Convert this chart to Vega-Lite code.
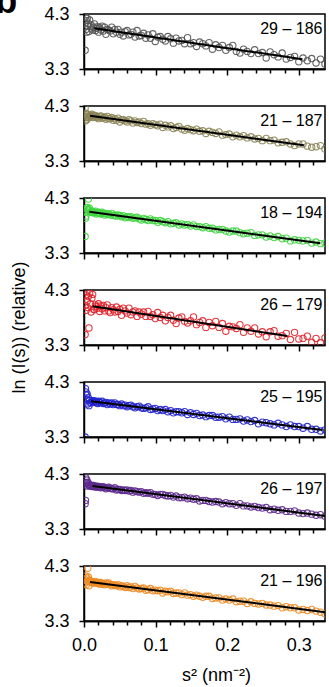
{
"$schema": "https://vega.github.io/schema/vega-lite/v6.json",
"padding": {"left": -6, "top": -17, "right": 0, "bottom": 0},
"config": {"font": "Liberation Sans", "view": {"stroke": "black", "strokeWidth": 1.5}, "axis": {"domainColor": "black", "domainWidth": 1.5, "tickColor": "black", "tickWidth": 1.5, "labelColor": "black", "titleColor": "black", "grid": false, "labelFontSize": 18, "titleFontSize": 18, "titleFontWeight": "normal", "labelFlush": false}},
"spacing": 37,
"bounds": "flush",
"datasets": {
"p1": [{"x":0.0016,"y":3.64},{"x":0.0021,"y":4.25},{"x":0.0026,"y":4.02},{"x":0.0032,"y":4.18},{"x":0.0038,"y":3.97},{"x":0.0045,"y":4.22},{"x":0.0052,"y":4.08},{"x":0.0061,"y":4.13},{"x":0.0069,"y":3.98},{"x":0.0079,"y":4.19},{"x":0.0088,"y":4.07},{"x":0.0099,"y":4.10},{"x":0.011,"y":4.03},{"x":0.0121,"y":4.01},{"x":0.0134,"y":4.06},{"x":0.0146,"y":4.12},{"x":0.016,"y":4.00},{"x":0.0174,"y":4.04},{"x":0.0188,"y":4.07},{"x":0.0203,"y":3.97},{"x":0.0219,"y":4.05},{"x":0.0235,"y":4.01},{"x":0.0252,"y":4.08},{"x":0.027,"y":3.99},{"x":0.0288,"y":4.06},{"x":0.0306,"y":3.93},{"x":0.0325,"y":4.02},{"x":0.0345,"y":4.01},{"x":0.0366,"y":3.99},{"x":0.0387,"y":4.06},{"x":0.0408,"y":3.94},{"x":0.043,"y":4.02},{"x":0.0453,"y":3.97},{"x":0.0476,"y":4.02},{"x":0.05,"y":3.93},{"x":0.0524,"y":3.97},{"x":0.0549,"y":3.90},{"x":0.0575,"y":3.98},{"x":0.0601,"y":4.00},{"x":0.0628,"y":3.92},{"x":0.0655,"y":3.93},{"x":0.0683,"y":3.97},{"x":0.0712,"y":3.88},{"x":0.0741,"y":4.00},{"x":0.0771,"y":3.90},{"x":0.0801,"y":3.91},{"x":0.0832,"y":3.95},{"x":0.0863,"y":3.86},{"x":0.0895,"y":3.92},{"x":0.0928,"y":3.86},{"x":0.0961,"y":3.94},{"x":0.0995,"y":3.80},{"x":0.1029,"y":3.88},{"x":0.1064,"y":3.89},{"x":0.11,"y":3.84},{"x":0.1136,"y":3.81},{"x":0.1172,"y":3.89},{"x":0.121,"y":3.85},{"x":0.1248,"y":3.77},{"x":0.1286,"y":3.86},{"x":0.1325,"y":3.81},{"x":0.1365,"y":3.82},{"x":0.1405,"y":3.76},{"x":0.1446,"y":3.87},{"x":0.1487,"y":3.76},{"x":0.1529,"y":3.78},{"x":0.1571,"y":3.71},{"x":0.1614,"y":3.79},{"x":0.1658,"y":3.76},{"x":0.1702,"y":3.72},{"x":0.1747,"y":3.78},{"x":0.1793,"y":3.66},{"x":0.1839,"y":3.74},{"x":0.1885,"y":3.69},{"x":0.1933,"y":3.73},{"x":0.198,"y":3.64},{"x":0.2029,"y":3.69},{"x":0.2078,"y":3.73},{"x":0.2127,"y":3.62},{"x":0.2177,"y":3.59},{"x":0.2228,"y":3.66},{"x":0.2279,"y":3.62},{"x":0.2331,"y":3.58},{"x":0.2383,"y":3.65},{"x":0.2436,"y":3.58},{"x":0.249,"y":3.60},{"x":0.2544,"y":3.50},{"x":0.2599,"y":3.61},{"x":0.2654,"y":3.56},{"x":0.271,"y":3.52},{"x":0.2767,"y":3.59},{"x":0.2824,"y":3.48},{"x":0.2882,"y":3.51},{"x":0.294,"y":3.53},{"x":0.2999,"y":3.43},{"x":0.3058,"y":3.50},{"x":0.3118,"y":3.45},{"x":0.3179,"y":3.49},{"x":0.324,"y":3.41},{"x":0.3302,"y":3.48},{"x":0.3364,"y":3.39}],
"p2": [{"x":0.0016,"y":4.26},{"x":0.0021,"y":4.03},{"x":0.0026,"y":4.17},{"x":0.0032,"y":4.10},{"x":0.0038,"y":4.05},{"x":0.0045,"y":4.15},{"x":0.0052,"y":4.12},{"x":0.0061,"y":4.08},{"x":0.0069,"y":4.09},{"x":0.0079,"y":4.13},{"x":0.0088,"y":4.12},{"x":0.0099,"y":4.12},{"x":0.011,"y":4.15},{"x":0.0121,"y":4.09},{"x":0.0134,"y":4.13},{"x":0.0146,"y":4.10},{"x":0.016,"y":4.13},{"x":0.0174,"y":4.09},{"x":0.0188,"y":4.10},{"x":0.0203,"y":4.07},{"x":0.0219,"y":4.11},{"x":0.0235,"y":4.12},{"x":0.0252,"y":4.08},{"x":0.027,"y":4.08},{"x":0.0288,"y":4.10},{"x":0.0306,"y":4.06},{"x":0.0325,"y":4.11},{"x":0.0345,"y":4.07},{"x":0.0366,"y":4.07},{"x":0.0387,"y":4.09},{"x":0.0408,"y":4.04},{"x":0.043,"y":4.07},{"x":0.0453,"y":4.04},{"x":0.0476,"y":4.08},{"x":0.05,"y":4.01},{"x":0.0524,"y":4.05},{"x":0.0549,"y":4.05},{"x":0.0575,"y":4.03},{"x":0.0601,"y":4.01},{"x":0.0628,"y":4.05},{"x":0.0655,"y":4.03},{"x":0.0683,"y":3.99},{"x":0.0712,"y":4.03},{"x":0.0741,"y":4.00},{"x":0.0771,"y":4.01},{"x":0.0801,"y":3.98},{"x":0.0832,"y":4.02},{"x":0.0863,"y":3.97},{"x":0.0895,"y":3.98},{"x":0.0928,"y":3.95},{"x":0.0961,"y":3.98},{"x":0.0995,"y":3.96},{"x":0.1029,"y":3.94},{"x":0.1064,"y":3.97},{"x":0.11,"y":3.91},{"x":0.1136,"y":3.95},{"x":0.1172,"y":3.92},{"x":0.121,"y":3.94},{"x":0.1248,"y":3.89},{"x":0.1286,"y":3.91},{"x":0.1325,"y":3.93},{"x":0.1365,"y":3.88},{"x":0.1405,"y":3.86},{"x":0.1446,"y":3.89},{"x":0.1487,"y":3.87},{"x":0.1529,"y":3.85},{"x":0.1571,"y":3.88},{"x":0.1614,"y":3.84},{"x":0.1658,"y":3.85},{"x":0.1702,"y":3.80},{"x":0.1747,"y":3.84},{"x":0.1793,"y":3.82},{"x":0.1839,"y":3.80},{"x":0.1885,"y":3.83},{"x":0.1933,"y":3.77},{"x":0.198,"y":3.78},{"x":0.2029,"y":3.79},{"x":0.2078,"y":3.74},{"x":0.2127,"y":3.77},{"x":0.2177,"y":3.74},{"x":0.2228,"y":3.76},{"x":0.2279,"y":3.72},{"x":0.2331,"y":3.74},{"x":0.2383,"y":3.70},{"x":0.2436,"y":3.71},{"x":0.249,"y":3.67},{"x":0.2544,"y":3.71},{"x":0.2599,"y":3.67},{"x":0.2654,"y":3.68},{"x":0.271,"y":3.63},{"x":0.2767,"y":3.64},{"x":0.2824,"y":3.65},{"x":0.2882,"y":3.61},{"x":0.294,"y":3.58},{"x":0.2999,"y":3.61},{"x":0.3058,"y":3.61},{"x":0.3118,"y":3.57},{"x":0.3179,"y":3.55},{"x":0.324,"y":3.56},{"x":0.3302,"y":3.58},{"x":0.3364,"y":3.52}],
"p3": [{"x":0.0016,"y":3.60},{"x":0.0021,"y":3.93},{"x":0.0026,"y":3.97},{"x":0.0032,"y":4.05},{"x":0.0038,"y":4.12},{"x":0.0045,"y":4.09},{"x":0.0052,"y":4.13},{"x":0.0061,"y":4.28},{"x":0.0069,"y":4.08},{"x":0.0079,"y":4.11},{"x":0.0088,"y":4.04},{"x":0.0099,"y":4.05},{"x":0.011,"y":4.06},{"x":0.0121,"y":4.03},{"x":0.0134,"y":4.05},{"x":0.0146,"y":4.03},{"x":0.016,"y":4.06},{"x":0.0174,"y":4.01},{"x":0.0188,"y":4.03},{"x":0.0203,"y":4.04},{"x":0.0219,"y":4.02},{"x":0.0235,"y":4.01},{"x":0.0252,"y":4.04},{"x":0.027,"y":4.02},{"x":0.0288,"y":3.99},{"x":0.0306,"y":4.02},{"x":0.0325,"y":4.00},{"x":0.0345,"y":4.01},{"x":0.0366,"y":3.99},{"x":0.0387,"y":4.02},{"x":0.0408,"y":3.98},{"x":0.043,"y":3.99},{"x":0.0453,"y":3.97},{"x":0.0476,"y":3.99},{"x":0.05,"y":3.98},{"x":0.0524,"y":3.96},{"x":0.0549,"y":3.98},{"x":0.0575,"y":3.94},{"x":0.0601,"y":3.96},{"x":0.0628,"y":3.95},{"x":0.0655,"y":3.96},{"x":0.0683,"y":3.93},{"x":0.0712,"y":3.94},{"x":0.0741,"y":3.95},{"x":0.0771,"y":3.92},{"x":0.0801,"y":3.90},{"x":0.0832,"y":3.93},{"x":0.0863,"y":3.91},{"x":0.0895,"y":3.89},{"x":0.0928,"y":3.92},{"x":0.0961,"y":3.89},{"x":0.0995,"y":3.89},{"x":0.1029,"y":3.86},{"x":0.1064,"y":3.89},{"x":0.11,"y":3.87},{"x":0.1136,"y":3.85},{"x":0.1172,"y":3.87},{"x":0.121,"y":3.83},{"x":0.1248,"y":3.84},{"x":0.1286,"y":3.85},{"x":0.1325,"y":3.81},{"x":0.1365,"y":3.83},{"x":0.1405,"y":3.81},{"x":0.1446,"y":3.82},{"x":0.1487,"y":3.79},{"x":0.1529,"y":3.81},{"x":0.1571,"y":3.78},{"x":0.1614,"y":3.78},{"x":0.1658,"y":3.76},{"x":0.1702,"y":3.78},{"x":0.1747,"y":3.75},{"x":0.1793,"y":3.75},{"x":0.1839,"y":3.72},{"x":0.1885,"y":3.73},{"x":0.1933,"y":3.73},{"x":0.198,"y":3.70},{"x":0.2029,"y":3.68},{"x":0.2078,"y":3.70},{"x":0.2127,"y":3.70},{"x":0.2177,"y":3.67},{"x":0.2228,"y":3.65},{"x":0.2279,"y":3.66},{"x":0.2331,"y":3.67},{"x":0.2383,"y":3.62},{"x":0.2436,"y":3.63},{"x":0.249,"y":3.63},{"x":0.2544,"y":3.59},{"x":0.2599,"y":3.61},{"x":0.2654,"y":3.58},{"x":0.271,"y":3.60},{"x":0.2767,"y":3.56},{"x":0.2824,"y":3.57},{"x":0.2882,"y":3.52},{"x":0.294,"y":3.54},{"x":0.2999,"y":3.53},{"x":0.3058,"y":3.52},{"x":0.3118,"y":3.53},{"x":0.3179,"y":3.48},{"x":0.324,"y":3.50},{"x":0.3302,"y":3.47},{"x":0.3364,"y":3.48}],
"p4": [{"x":0.0016,"y":3.49},{"x":0.0021,"y":4.02},{"x":0.0026,"y":4.21},{"x":0.0032,"y":3.93},{"x":0.0038,"y":4.27},{"x":0.0045,"y":4.10},{"x":0.0052,"y":3.98},{"x":0.0061,"y":4.18},{"x":0.0069,"y":3.61},{"x":0.0079,"y":4.24},{"x":0.0088,"y":4.05},{"x":0.0099,"y":3.90},{"x":0.011,"y":4.15},{"x":0.0121,"y":4.22},{"x":0.0134,"y":3.95},{"x":0.0146,"y":3.94},{"x":0.016,"y":4.03},{"x":0.0174,"y":4.00},{"x":0.0188,"y":3.97},{"x":0.0203,"y":4.05},{"x":0.0219,"y":3.91},{"x":0.0235,"y":4.01},{"x":0.0252,"y":3.96},{"x":0.027,"y":4.02},{"x":0.0288,"y":3.92},{"x":0.0306,"y":3.98},{"x":0.0325,"y":4.03},{"x":0.0345,"y":3.92},{"x":0.0366,"y":3.89},{"x":0.0387,"y":3.98},{"x":0.0408,"y":3.94},{"x":0.043,"y":3.90},{"x":0.0453,"y":3.99},{"x":0.0476,"y":3.91},{"x":0.05,"y":3.95},{"x":0.0524,"y":3.84},{"x":0.0549,"y":3.97},{"x":0.0575,"y":3.92},{"x":0.0601,"y":3.88},{"x":0.0628,"y":3.97},{"x":0.0655,"y":3.85},{"x":0.0683,"y":3.90},{"x":0.0712,"y":3.92},{"x":0.0741,"y":3.82},{"x":0.0771,"y":3.90},{"x":0.0801,"y":3.86},{"x":0.0832,"y":3.90},{"x":0.0863,"y":3.82},{"x":0.0895,"y":3.91},{"x":0.0928,"y":3.82},{"x":0.0961,"y":3.85},{"x":0.0995,"y":3.78},{"x":0.1029,"y":3.89},{"x":0.1064,"y":3.80},{"x":0.11,"y":3.84},{"x":0.1136,"y":3.74},{"x":0.1172,"y":3.80},{"x":0.121,"y":3.84},{"x":0.1248,"y":3.75},{"x":0.1286,"y":3.69},{"x":0.1325,"y":3.79},{"x":0.1365,"y":3.81},{"x":0.1405,"y":3.73},{"x":0.1446,"y":3.70},{"x":0.1487,"y":3.74},{"x":0.1529,"y":3.81},{"x":0.1571,"y":3.67},{"x":0.1614,"y":3.71},{"x":0.1658,"y":3.74},{"x":0.1702,"y":3.62},{"x":0.1747,"y":3.71},{"x":0.1793,"y":3.65},{"x":0.1839,"y":3.73},{"x":0.1885,"y":3.62},{"x":0.1933,"y":3.69},{"x":0.198,"y":3.55},{"x":0.2029,"y":3.64},{"x":0.2078,"y":3.63},{"x":0.2127,"y":3.60},{"x":0.2177,"y":3.67},{"x":0.2228,"y":3.53},{"x":0.2279,"y":3.61},{"x":0.2331,"y":3.55},{"x":0.2383,"y":3.61},{"x":0.2436,"y":3.50},{"x":0.249,"y":3.54},{"x":0.2544,"y":3.45},{"x":0.2599,"y":3.54},{"x":0.2654,"y":3.56},{"x":0.271,"y":3.46},{"x":0.2767,"y":3.47},{"x":0.2824,"y":3.51},{"x":0.2882,"y":3.40},{"x":0.294,"y":3.53},{"x":0.2999,"y":3.41},{"x":0.3058,"y":3.42},{"x":0.3118,"y":3.46},{"x":0.3179,"y":3.35},{"x":0.324,"y":3.42},{"x":0.3302,"y":3.34},{"x":0.3364,"y":3.43}],
"p5": [{"x":0.0016,"y":3.30},{"x":0.0021,"y":4.18},{"x":0.0026,"y":4.12},{"x":0.0032,"y":4.06},{"x":0.0038,"y":3.98},{"x":0.0045,"y":4.08},{"x":0.0052,"y":3.90},{"x":0.0061,"y":4.01},{"x":0.0069,"y":3.87},{"x":0.0079,"y":3.97},{"x":0.0088,"y":3.92},{"x":0.0099,"y":3.93},{"x":0.011,"y":3.96},{"x":0.0121,"y":3.95},{"x":0.0134,"y":3.93},{"x":0.0146,"y":3.96},{"x":0.016,"y":3.93},{"x":0.0174,"y":3.94},{"x":0.0188,"y":3.91},{"x":0.0203,"y":3.95},{"x":0.0219,"y":3.93},{"x":0.0235,"y":3.92},{"x":0.0252,"y":3.95},{"x":0.027,"y":3.91},{"x":0.0288,"y":3.92},{"x":0.0306,"y":3.93},{"x":0.0325,"y":3.89},{"x":0.0345,"y":3.92},{"x":0.0366,"y":3.90},{"x":0.0387,"y":3.92},{"x":0.0408,"y":3.89},{"x":0.043,"y":3.92},{"x":0.0453,"y":3.89},{"x":0.0476,"y":3.89},{"x":0.05,"y":3.87},{"x":0.0524,"y":3.90},{"x":0.0549,"y":3.87},{"x":0.0575,"y":3.88},{"x":0.0601,"y":3.85},{"x":0.0628,"y":3.87},{"x":0.0655,"y":3.88},{"x":0.0683,"y":3.85},{"x":0.0712,"y":3.83},{"x":0.0741,"y":3.85},{"x":0.0771,"y":3.86},{"x":0.0801,"y":3.83},{"x":0.0832,"y":3.82},{"x":0.0863,"y":3.83},{"x":0.0895,"y":3.85},{"x":0.0928,"y":3.80},{"x":0.0961,"y":3.81},{"x":0.0995,"y":3.82},{"x":0.1029,"y":3.78},{"x":0.1064,"y":3.80},{"x":0.11,"y":3.78},{"x":0.1136,"y":3.80},{"x":0.1172,"y":3.76},{"x":0.121,"y":3.78},{"x":0.1248,"y":3.74},{"x":0.1286,"y":3.76},{"x":0.1325,"y":3.76},{"x":0.1365,"y":3.74},{"x":0.1405,"y":3.76},{"x":0.1446,"y":3.71},{"x":0.1487,"y":3.74},{"x":0.1529,"y":3.71},{"x":0.1571,"y":3.73},{"x":0.1614,"y":3.69},{"x":0.1658,"y":3.70},{"x":0.1702,"y":3.67},{"x":0.1747,"y":3.69},{"x":0.1793,"y":3.69},{"x":0.1839,"y":3.66},{"x":0.1885,"y":3.66},{"x":0.1933,"y":3.67},{"x":0.198,"y":3.63},{"x":0.2029,"y":3.66},{"x":0.2078,"y":3.62},{"x":0.2127,"y":3.62},{"x":0.2177,"y":3.63},{"x":0.2228,"y":3.59},{"x":0.2279,"y":3.61},{"x":0.2331,"y":3.58},{"x":0.2383,"y":3.60},{"x":0.2436,"y":3.54},{"x":0.249,"y":3.57},{"x":0.2544,"y":3.56},{"x":0.2599,"y":3.54},{"x":0.2654,"y":3.52},{"x":0.271,"y":3.55},{"x":0.2767,"y":3.52},{"x":0.2824,"y":3.49},{"x":0.2882,"y":3.52},{"x":0.294,"y":3.49},{"x":0.2999,"y":3.49},{"x":0.3058,"y":3.46},{"x":0.3118,"y":3.49},{"x":0.3179,"y":3.44},{"x":0.324,"y":3.44},{"x":0.3302,"y":3.41},{"x":0.3364,"y":3.43}],
"p6": [{"x":0.0016,"y":3.76},{"x":0.0021,"y":3.82},{"x":0.0026,"y":4.23},{"x":0.0032,"y":4.14},{"x":0.0038,"y":4.19},{"x":0.0045,"y":4.08},{"x":0.0052,"y":4.15},{"x":0.0061,"y":4.10},{"x":0.0069,"y":4.12},{"x":0.0079,"y":4.08},{"x":0.0088,"y":4.09},{"x":0.0099,"y":4.08},{"x":0.011,"y":4.09},{"x":0.0121,"y":4.07},{"x":0.0134,"y":4.09},{"x":0.0146,"y":4.07},{"x":0.016,"y":4.08},{"x":0.0174,"y":4.06},{"x":0.0188,"y":4.08},{"x":0.0203,"y":4.07},{"x":0.0219,"y":4.07},{"x":0.0235,"y":4.05},{"x":0.0252,"y":4.06},{"x":0.027,"y":4.07},{"x":0.0288,"y":4.05},{"x":0.0306,"y":4.03},{"x":0.0325,"y":4.05},{"x":0.0345,"y":4.06},{"x":0.0366,"y":4.04},{"x":0.0387,"y":4.03},{"x":0.0408,"y":4.03},{"x":0.043,"y":4.05},{"x":0.0453,"y":4.01},{"x":0.0476,"y":4.02},{"x":0.05,"y":4.02},{"x":0.0524,"y":4.00},{"x":0.0549,"y":4.01},{"x":0.0575,"y":4.00},{"x":0.0601,"y":4.01},{"x":0.0628,"y":3.99},{"x":0.0655,"y":4.00},{"x":0.0683,"y":3.97},{"x":0.0712,"y":3.99},{"x":0.0741,"y":3.98},{"x":0.0771,"y":3.97},{"x":0.0801,"y":3.98},{"x":0.0832,"y":3.95},{"x":0.0863,"y":3.96},{"x":0.0895,"y":3.95},{"x":0.0928,"y":3.96},{"x":0.0961,"y":3.93},{"x":0.0995,"y":3.93},{"x":0.1029,"y":3.91},{"x":0.1064,"y":3.93},{"x":0.11,"y":3.93},{"x":0.1136,"y":3.91},{"x":0.1172,"y":3.90},{"x":0.121,"y":3.91},{"x":0.1248,"y":3.88},{"x":0.1286,"y":3.90},{"x":0.1325,"y":3.87},{"x":0.1365,"y":3.87},{"x":0.1405,"y":3.88},{"x":0.1446,"y":3.85},{"x":0.1487,"y":3.86},{"x":0.1529,"y":3.84},{"x":0.1571,"y":3.85},{"x":0.1614,"y":3.81},{"x":0.1658,"y":3.82},{"x":0.1702,"y":3.82},{"x":0.1747,"y":3.80},{"x":0.1793,"y":3.79},{"x":0.1839,"y":3.80},{"x":0.1885,"y":3.79},{"x":0.1933,"y":3.76},{"x":0.198,"y":3.78},{"x":0.2029,"y":3.76},{"x":0.2078,"y":3.76},{"x":0.2127,"y":3.73},{"x":0.2177,"y":3.76},{"x":0.2228,"y":3.72},{"x":0.2279,"y":3.72},{"x":0.2331,"y":3.70},{"x":0.2383,"y":3.71},{"x":0.2436,"y":3.69},{"x":0.249,"y":3.68},{"x":0.2544,"y":3.69},{"x":0.2599,"y":3.65},{"x":0.2654,"y":3.66},{"x":0.271,"y":3.64},{"x":0.2767,"y":3.65},{"x":0.2824,"y":3.62},{"x":0.2882,"y":3.62},{"x":0.294,"y":3.63},{"x":0.2999,"y":3.59},{"x":0.3058,"y":3.58},{"x":0.3118,"y":3.59},{"x":0.3179,"y":3.57},{"x":0.324,"y":3.55},{"x":0.3302,"y":3.56},{"x":0.3364,"y":3.53}],
"p7": [{"x":0.0016,"y":3.99},{"x":0.0021,"y":4.05},{"x":0.0026,"y":4.12},{"x":0.0032,"y":3.96},{"x":0.0038,"y":4.08},{"x":0.0045,"y":4.02},{"x":0.0052,"y":4.26},{"x":0.0061,"y":4.10},{"x":0.0069,"y":3.94},{"x":0.0079,"y":4.04},{"x":0.0088,"y":4.03},{"x":0.0099,"y":4.00},{"x":0.011,"y":4.01},{"x":0.0121,"y":3.99},{"x":0.0134,"y":4.01},{"x":0.0146,"y":3.99},{"x":0.016,"y":4.02},{"x":0.0174,"y":3.99},{"x":0.0188,"y":3.99},{"x":0.0203,"y":3.99},{"x":0.0219,"y":3.97},{"x":0.0235,"y":4.00},{"x":0.0252,"y":3.97},{"x":0.027,"y":3.98},{"x":0.0288,"y":3.96},{"x":0.0306,"y":3.99},{"x":0.0325,"y":3.97},{"x":0.0345,"y":3.99},{"x":0.0366,"y":3.96},{"x":0.0387,"y":3.94},{"x":0.0408,"y":3.96},{"x":0.043,"y":3.95},{"x":0.0453,"y":3.94},{"x":0.0476,"y":3.96},{"x":0.05,"y":3.92},{"x":0.0524,"y":3.94},{"x":0.0549,"y":3.93},{"x":0.0575,"y":3.91},{"x":0.0601,"y":3.94},{"x":0.0628,"y":3.91},{"x":0.0655,"y":3.92},{"x":0.0683,"y":3.89},{"x":0.0712,"y":3.93},{"x":0.0741,"y":3.90},{"x":0.0771,"y":3.88},{"x":0.0801,"y":3.89},{"x":0.0832,"y":3.90},{"x":0.0863,"y":3.86},{"x":0.0895,"y":3.87},{"x":0.0928,"y":3.89},{"x":0.0961,"y":3.85},{"x":0.0995,"y":3.86},{"x":0.1029,"y":3.85},{"x":0.1064,"y":3.86},{"x":0.11,"y":3.81},{"x":0.1136,"y":3.84},{"x":0.1172,"y":3.83},{"x":0.121,"y":3.84},{"x":0.1248,"y":3.80},{"x":0.1286,"y":3.81},{"x":0.1325,"y":3.81},{"x":0.1365,"y":3.78},{"x":0.1405,"y":3.81},{"x":0.1446,"y":3.77},{"x":0.1487,"y":3.78},{"x":0.1529,"y":3.75},{"x":0.1571,"y":3.77},{"x":0.1614,"y":3.75},{"x":0.1658,"y":3.73},{"x":0.1702,"y":3.75},{"x":0.1747,"y":3.75},{"x":0.1793,"y":3.71},{"x":0.1839,"y":3.72},{"x":0.1885,"y":3.72},{"x":0.1933,"y":3.68},{"x":0.198,"y":3.70},{"x":0.2029,"y":3.68},{"x":0.2078,"y":3.70},{"x":0.2127,"y":3.65},{"x":0.2177,"y":3.66},{"x":0.2228,"y":3.66},{"x":0.2279,"y":3.62},{"x":0.2331,"y":3.65},{"x":0.2383,"y":3.62},{"x":0.2436,"y":3.61},{"x":0.249,"y":3.62},{"x":0.2544,"y":3.59},{"x":0.2599,"y":3.59},{"x":0.2654,"y":3.57},{"x":0.271,"y":3.58},{"x":0.2767,"y":3.54},{"x":0.2824,"y":3.56},{"x":0.2882,"y":3.54},{"x":0.294,"y":3.54},{"x":0.2999,"y":3.50},{"x":0.3058,"y":3.51},{"x":0.3118,"y":3.49},{"x":0.3179,"y":3.51},{"x":0.324,"y":3.48},{"x":0.3302,"y":3.46},{"x":0.3364,"y":3.43}],
"f1": [{"x":0.0144,"y":4.04},{"x":0.305,"y":3.476}],
"f2": [{"x":0.0084,"y":4.124},{"x":0.307,"y":3.585}],
"f3": [{"x":0.0074,"y":4.05},{"x":0.33,"y":3.476}],
"f4": [{"x":0.012,"y":4.004},{"x":0.284,"y":3.464}],
"f5": [{"x":0.0098,"y":3.95},{"x":0.333,"y":3.427}],
"f6": [{"x":0.012,"y":4.08},{"x":0.3365,"y":3.538}],
"f7": [{"x":0.0084,"y":4.01},{"x":0.3365,"y":3.46}],
"tag": [{"t":"b"}],
"l1": [{"t":"29 – 186"}],
"l2": [{"t":"21 – 187"}],
"l3": [{"t":"18 – 194"}],
"l4": [{"t":"26 – 179"}],
"l5": [{"t":"25 – 195"}],
"l6": [{"t":"26 – 197"}],
"l7": [{"t":"21 – 196"}]
},
"vconcat": [
{"width": 241, "height": 55, "resolve": {"axis": {"x": "independent"}}, "layer": [
 {"data": {"name": "p1"}, "mark": {"type": "point", "shape": "circle", "filled": false, "size": 40, "strokeWidth": 1.1, "opacity": 0.9, "color": "#555555", "clip": true},
  "encoding": {"x": {"field": "x", "type": "quantitative", "scale": {"domain": [0, 0.3365], "nice": false, "zero": false}, "axis": {"orient": "bottom", "values": [0.02,0.04,0.06,0.08,0.12,0.14,0.16,0.18,0.22,0.24,0.26,0.28,0.32], "tickSize": 4, "labels": false, "title": null}},
   "y": {"field": "y", "type": "quantitative", "scale": {"domain": [3.3, 4.3], "nice": false, "zero": false}, "axis": {"values": [3.3, 4.3], "format": ".1f", "tickSize": 5, "labelPadding": 10, "title": null}}}},
 {"data": {"name": "f1"}, "mark": {"type": "line", "color": "black", "strokeWidth": 2, "clip": true},
  "encoding": {"x": {"field": "x", "type": "quantitative", "axis": {"orient": "bottom", "values": [0, 0.1, 0.2, 0.3], "tickSize": 6, "labels": false, "title": null}}, "y": {"field": "y", "type": "quantitative"}}},
 {"data": {"name": "l1"}, "mark": {"type": "text", "align": "right", "baseline": "middle", "fontSize": 16},
  "encoding": {"x": {"datum": 0.333, "type": "quantitative", "axis": null}, "y": {"datum": 4.03, "type": "quantitative"}, "text": {"field": "t", "type": "nominal"}}},
 {"data": {"name": "tag"}, "mark": {"type": "text", "align": "left", "baseline": "alphabetic", "fontSize": 36, "fontWeight": "bold"},
  "encoding": {"x": {"datum": -0.124, "type": "quantitative", "axis": null}, "y": {"datum": 4.318, "type": "quantitative"}, "text": {"field": "t", "type": "nominal"}}}
]},
{"width": 241, "height": 55, "resolve": {"axis": {"x": "independent"}}, "layer": [
 {"data": {"name": "p2"}, "mark": {"type": "point", "shape": "circle", "filled": false, "size": 40, "strokeWidth": 1.1, "opacity": 0.9, "color": "#8a8456", "clip": true},
  "encoding": {"x": {"field": "x", "type": "quantitative", "scale": {"domain": [0, 0.3365], "nice": false, "zero": false}, "axis": {"orient": "bottom", "values": [0.02,0.04,0.06,0.08,0.12,0.14,0.16,0.18,0.22,0.24,0.26,0.28,0.32], "tickSize": 4, "labels": false, "title": null}},
   "y": {"field": "y", "type": "quantitative", "scale": {"domain": [3.3, 4.3], "nice": false, "zero": false}, "axis": {"values": [3.3, 4.3], "format": ".1f", "tickSize": 5, "labelPadding": 10, "title": null}}}},
 {"data": {"name": "f2"}, "mark": {"type": "line", "color": "black", "strokeWidth": 2, "clip": true},
  "encoding": {"x": {"field": "x", "type": "quantitative", "axis": {"orient": "bottom", "values": [0, 0.1, 0.2, 0.3], "tickSize": 6, "labels": false, "title": null}}, "y": {"field": "y", "type": "quantitative"}}},
 {"data": {"name": "l2"}, "mark": {"type": "text", "align": "right", "baseline": "middle", "fontSize": 16},
  "encoding": {"x": {"datum": 0.333, "type": "quantitative", "axis": null}, "y": {"datum": 4.03, "type": "quantitative"}, "text": {"field": "t", "type": "nominal"}}}
]},
{"width": 241, "height": 55, "resolve": {"axis": {"x": "independent"}}, "layer": [
 {"data": {"name": "p3"}, "mark": {"type": "point", "shape": "circle", "filled": false, "size": 40, "strokeWidth": 1.1, "opacity": 0.9, "color": "#3fd43f", "clip": true},
  "encoding": {"x": {"field": "x", "type": "quantitative", "scale": {"domain": [0, 0.3365], "nice": false, "zero": false}, "axis": {"orient": "bottom", "values": [0.02,0.04,0.06,0.08,0.12,0.14,0.16,0.18,0.22,0.24,0.26,0.28,0.32], "tickSize": 4, "labels": false, "title": null}},
   "y": {"field": "y", "type": "quantitative", "scale": {"domain": [3.3, 4.3], "nice": false, "zero": false}, "axis": {"values": [3.3, 4.3], "format": ".1f", "tickSize": 5, "labelPadding": 10, "title": null}}}},
 {"data": {"name": "f3"}, "mark": {"type": "line", "color": "black", "strokeWidth": 2, "clip": true},
  "encoding": {"x": {"field": "x", "type": "quantitative", "axis": {"orient": "bottom", "values": [0, 0.1, 0.2, 0.3], "tickSize": 6, "labels": false, "title": null}}, "y": {"field": "y", "type": "quantitative"}}},
 {"data": {"name": "l3"}, "mark": {"type": "text", "align": "right", "baseline": "middle", "fontSize": 16},
  "encoding": {"x": {"datum": 0.333, "type": "quantitative", "axis": null}, "y": {"datum": 4.03, "type": "quantitative"}, "text": {"field": "t", "type": "nominal"}}}
]},
{"width": 241, "height": 55, "resolve": {"axis": {"x": "independent"}}, "layer": [
 {"data": {"name": "p4"}, "mark": {"type": "point", "shape": "circle", "filled": false, "size": 40, "strokeWidth": 1.1, "opacity": 0.9, "color": "#e0242c", "clip": true},
  "encoding": {"x": {"field": "x", "type": "quantitative", "scale": {"domain": [0, 0.3365], "nice": false, "zero": false}, "axis": {"orient": "bottom", "values": [0.02,0.04,0.06,0.08,0.12,0.14,0.16,0.18,0.22,0.24,0.26,0.28,0.32], "tickSize": 4, "labels": false, "title": null}},
   "y": {"field": "y", "type": "quantitative", "scale": {"domain": [3.3, 4.3], "nice": false, "zero": false}, "axis": {"values": [3.3, 4.3], "format": ".1f", "tickSize": 5, "labelPadding": 10, "title": "ln (I(s)) (relative)", "titlePadding": 15, "titleY": 37}}}},
 {"data": {"name": "f4"}, "mark": {"type": "line", "color": "black", "strokeWidth": 2, "clip": true},
  "encoding": {"x": {"field": "x", "type": "quantitative", "axis": {"orient": "bottom", "values": [0, 0.1, 0.2, 0.3], "tickSize": 6, "labels": false, "title": null}}, "y": {"field": "y", "type": "quantitative"}}},
 {"data": {"name": "l4"}, "mark": {"type": "text", "align": "right", "baseline": "middle", "fontSize": 16},
  "encoding": {"x": {"datum": 0.333, "type": "quantitative", "axis": null}, "y": {"datum": 4.03, "type": "quantitative"}, "text": {"field": "t", "type": "nominal"}}}
]},
{"width": 241, "height": 55, "resolve": {"axis": {"x": "independent"}}, "layer": [
 {"data": {"name": "p5"}, "mark": {"type": "point", "shape": "circle", "filled": false, "size": 40, "strokeWidth": 1.1, "opacity": 0.9, "color": "#2222cc", "clip": true},
  "encoding": {"x": {"field": "x", "type": "quantitative", "scale": {"domain": [0, 0.3365], "nice": false, "zero": false}, "axis": {"orient": "bottom", "values": [0.02,0.04,0.06,0.08,0.12,0.14,0.16,0.18,0.22,0.24,0.26,0.28,0.32], "tickSize": 4, "labels": false, "title": null}},
   "y": {"field": "y", "type": "quantitative", "scale": {"domain": [3.3, 4.3], "nice": false, "zero": false}, "axis": {"values": [3.3, 4.3], "format": ".1f", "tickSize": 5, "labelPadding": 10, "title": null}}}},
 {"data": {"name": "f5"}, "mark": {"type": "line", "color": "black", "strokeWidth": 2, "clip": true},
  "encoding": {"x": {"field": "x", "type": "quantitative", "axis": {"orient": "bottom", "values": [0, 0.1, 0.2, 0.3], "tickSize": 6, "labels": false, "title": null}}, "y": {"field": "y", "type": "quantitative"}}},
 {"data": {"name": "l5"}, "mark": {"type": "text", "align": "right", "baseline": "middle", "fontSize": 16},
  "encoding": {"x": {"datum": 0.333, "type": "quantitative", "axis": null}, "y": {"datum": 4.03, "type": "quantitative"}, "text": {"field": "t", "type": "nominal"}}}
]},
{"width": 241, "height": 55, "resolve": {"axis": {"x": "independent"}}, "layer": [
 {"data": {"name": "p6"}, "mark": {"type": "point", "shape": "circle", "filled": false, "size": 40, "strokeWidth": 1.1, "opacity": 0.9, "color": "#5e2a8e", "clip": true},
  "encoding": {"x": {"field": "x", "type": "quantitative", "scale": {"domain": [0, 0.3365], "nice": false, "zero": false}, "axis": {"orient": "bottom", "values": [0.02,0.04,0.06,0.08,0.12,0.14,0.16,0.18,0.22,0.24,0.26,0.28,0.32], "tickSize": 4, "labels": false, "title": null}},
   "y": {"field": "y", "type": "quantitative", "scale": {"domain": [3.3, 4.3], "nice": false, "zero": false}, "axis": {"values": [3.3, 4.3], "format": ".1f", "tickSize": 5, "labelPadding": 10, "title": null}}}},
 {"data": {"name": "f6"}, "mark": {"type": "line", "color": "black", "strokeWidth": 2, "clip": true},
  "encoding": {"x": {"field": "x", "type": "quantitative", "axis": {"orient": "bottom", "values": [0, 0.1, 0.2, 0.3], "tickSize": 6, "labels": false, "title": null}}, "y": {"field": "y", "type": "quantitative"}}},
 {"data": {"name": "l6"}, "mark": {"type": "text", "align": "right", "baseline": "middle", "fontSize": 16},
  "encoding": {"x": {"datum": 0.333, "type": "quantitative", "axis": null}, "y": {"datum": 4.03, "type": "quantitative"}, "text": {"field": "t", "type": "nominal"}}}
]},
{"width": 241, "height": 55, "resolve": {"axis": {"x": "independent"}}, "layer": [
 {"data": {"name": "p7"}, "mark": {"type": "point", "shape": "circle", "filled": false, "size": 40, "strokeWidth": 1.1, "opacity": 0.9, "color": "#ef8a22", "clip": true},
  "encoding": {"x": {"field": "x", "type": "quantitative", "scale": {"domain": [0, 0.3365], "nice": false, "zero": false}, "axis": {"orient": "bottom", "values": [0.02,0.04,0.06,0.08,0.12,0.14,0.16,0.18,0.22,0.24,0.26,0.28,0.32], "tickSize": 4, "labels": false, "title": null}},
   "y": {"field": "y", "type": "quantitative", "scale": {"domain": [3.3, 4.3], "nice": false, "zero": false}, "axis": {"values": [3.3, 4.3], "format": ".1f", "tickSize": 5, "labelPadding": 10, "title": null}}}},
 {"data": {"name": "f7"}, "mark": {"type": "line", "color": "black", "strokeWidth": 2, "clip": true},
  "encoding": {"x": {"field": "x", "type": "quantitative", "axis": {"orient": "bottom", "values": [0, 0.1, 0.2, 0.3], "format": ".1f", "tickSize": 6, "labels": true, "labelPadding": 9, "title": "s² (nm⁻²)", "titlePadding": 12, "titleX": 132}}, "y": {"field": "y", "type": "quantitative"}}},
 {"data": {"name": "l7"}, "mark": {"type": "text", "align": "right", "baseline": "middle", "fontSize": 16},
  "encoding": {"x": {"datum": 0.333, "type": "quantitative", "axis": null}, "y": {"datum": 4.03, "type": "quantitative"}, "text": {"field": "t", "type": "nominal"}}}
]}
]
}
